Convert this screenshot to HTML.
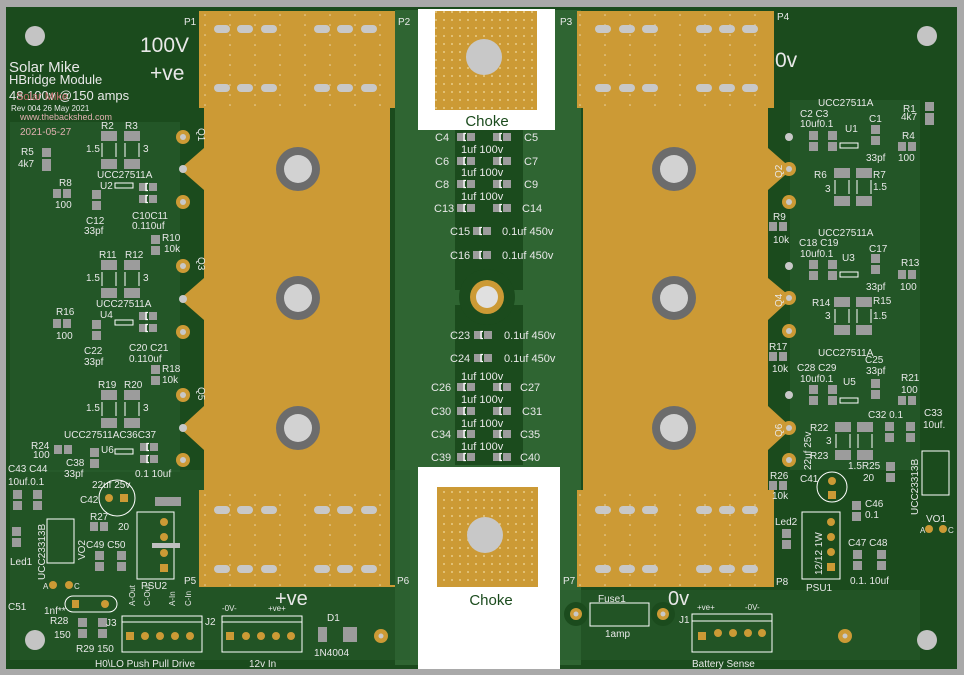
<!DOCTYPE html><html><head><meta charset="utf-8"><style>
html,body{margin:0;padding:0;background:#a9a9a9;}
svg{display:block}
text{font-family:"Liberation Sans",sans-serif;fill:#e8e8e8;}
</style></head><body>
<svg width="964" height="675" viewBox="0 0 964 675" xmlns="http://www.w3.org/2000/svg">
<defs>
<pattern id="dots" width="8" height="8" patternUnits="userSpaceOnUse"><circle cx="4" cy="4" r="0.9" fill="#f0d9a0"/></pattern>
<pattern id="vdots" width="25" height="10" patternUnits="userSpaceOnUse"><circle cx="5" cy="5" r="0.8" fill="#e8d4a8"/></pattern>
<g id="cap"><rect x="0" y="0" width="8" height="8" fill="#9c9c9c"/><rect x="10" y="0" width="8" height="8" fill="#9c9c9c"/><path d="M9 0.5 h-2 v7 h2" stroke="#fff" stroke-width="1.3" fill="none"/></g>
<g id="vr"><rect x="0" y="0" width="9" height="9" fill="#9c9c9c"/><rect x="0" y="11" width="9" height="9" fill="#9c9c9c"/></g>
<g id="bigr"><rect x="0" y="0" width="16" height="10" fill="#9c9c9c"/><rect x="0" y="28" width="16" height="10" fill="#9c9c9c"/><line x1="1" y1="12" x2="1" y2="26" stroke="#fff"/><line x1="15" y1="12" x2="15" y2="26" stroke="#fff"/></g>
<g id="hr"><rect x="0" y="0" width="8" height="9" fill="#9c9c9c"/><rect x="10" y="0" width="8" height="9" fill="#9c9c9c"/></g>
</defs>
<rect width="964" height="675" fill="#a9a9a9"/>
<rect x="6" y="7" width="951" height="662" fill="#1b4b1d"/>
<rect x="395" y="10" width="186" height="655" fill="#2f6532"/>
<rect x="10" y="122" width="170" height="350" fill="#2a5d2e" opacity="0.6"/>
<rect x="790" y="100" width="130" height="370" fill="#2a5d2e" opacity="0.6"/>
<rect x="10" y="470" width="400" height="190" fill="#2a5d2e" opacity="0.5"/>
<rect x="560" y="590" width="360" height="70" fill="#2a5d2e" opacity="0.5"/>
<rect x="455" y="130" width="68" height="160" fill="#1b4b1d"/>
<rect x="455" y="305" width="68" height="160" fill="#1b4b1d"/>
<circle cx="487" cy="297" r="28" fill="#1b4b1d"/>
<circle cx="487" cy="297" r="17" fill="#cc9a35"/>
<circle cx="487" cy="297" r="11" fill="#e0e0e0"/>

<polygon fill="#cc9a35" points="199,11 395,11 395,108 390,108 390,585 395,585 395,587 199,587 199,490 204,490 204,450 180,428 204,406 204,320 180,299 204,278 204,190 180,169 204,148 204,108 199,108"/>
<polygon fill="#cc9a35" points="577,11 774,11 774,108 768,108 768,148 792,169 768,190 768,278 792,298 768,320 768,406 792,428 768,450 768,490 774,490 774,587 577,587 577,490 583,490 583,108 577,108"/>
<rect x="199" y="11" width="196" height="97" fill="url(#vdots)"/>
<rect x="199" y="490" width="196" height="97" fill="url(#vdots)"/>
<rect x="577" y="11" width="197" height="97" fill="url(#vdots)"/>
<rect x="577" y="490" width="197" height="97" fill="url(#vdots)"/>
<g fill="#c8c8c8">
<rect x="214" y="25" width="16" height="8" rx="4"/><rect x="237" y="25" width="16" height="8" rx="4"/><rect x="261" y="25" width="16" height="8" rx="4"/>
<rect x="314" y="25" width="16" height="8" rx="4"/><rect x="337" y="25" width="16" height="8" rx="4"/><rect x="361" y="25" width="16" height="8" rx="4"/>
<rect x="214" y="84" width="16" height="8" rx="4"/><rect x="237" y="84" width="16" height="8" rx="4"/><rect x="261" y="84" width="16" height="8" rx="4"/>
<rect x="314" y="84" width="16" height="8" rx="4"/><rect x="337" y="84" width="16" height="8" rx="4"/><rect x="361" y="84" width="16" height="8" rx="4"/>
<rect x="214" y="506" width="16" height="8" rx="4"/><rect x="237" y="506" width="16" height="8" rx="4"/><rect x="261" y="506" width="16" height="8" rx="4"/>
<rect x="314" y="506" width="16" height="8" rx="4"/><rect x="337" y="506" width="16" height="8" rx="4"/><rect x="361" y="506" width="16" height="8" rx="4"/>
<rect x="214" y="565" width="16" height="8" rx="4"/><rect x="237" y="565" width="16" height="8" rx="4"/><rect x="261" y="565" width="16" height="8" rx="4"/>
<rect x="314" y="565" width="16" height="8" rx="4"/><rect x="337" y="565" width="16" height="8" rx="4"/><rect x="361" y="565" width="16" height="8" rx="4"/>
<rect x="595" y="25" width="16" height="8" rx="4"/><rect x="619" y="25" width="16" height="8" rx="4"/><rect x="642" y="25" width="16" height="8" rx="4"/>
<rect x="696" y="25" width="16" height="8" rx="4"/><rect x="719" y="25" width="16" height="8" rx="4"/><rect x="742" y="25" width="16" height="8" rx="4"/>
<rect x="595" y="84" width="16" height="8" rx="4"/><rect x="619" y="84" width="16" height="8" rx="4"/><rect x="642" y="84" width="16" height="8" rx="4"/>
<rect x="696" y="84" width="16" height="8" rx="4"/><rect x="719" y="84" width="16" height="8" rx="4"/><rect x="742" y="84" width="16" height="8" rx="4"/>
<rect x="595" y="506" width="16" height="8" rx="4"/><rect x="619" y="506" width="16" height="8" rx="4"/><rect x="642" y="506" width="16" height="8" rx="4"/>
<rect x="696" y="506" width="16" height="8" rx="4"/><rect x="719" y="506" width="16" height="8" rx="4"/><rect x="742" y="506" width="16" height="8" rx="4"/>
<rect x="595" y="565" width="16" height="8" rx="4"/><rect x="619" y="565" width="16" height="8" rx="4"/><rect x="642" y="565" width="16" height="8" rx="4"/>
<rect x="696" y="565" width="16" height="8" rx="4"/><rect x="719" y="565" width="16" height="8" rx="4"/><rect x="742" y="565" width="16" height="8" rx="4"/>
</g>
<g>
<circle cx="298" cy="169" r="22" fill="#6c6c6c"/><circle cx="298" cy="169" r="14" fill="#d2d2d2"/>
<circle cx="298" cy="298" r="22" fill="#6c6c6c"/><circle cx="298" cy="298" r="14" fill="#d2d2d2"/>
<circle cx="298" cy="428" r="22" fill="#6c6c6c"/><circle cx="298" cy="428" r="14" fill="#d2d2d2"/>
<circle cx="674" cy="169" r="22" fill="#6c6c6c"/><circle cx="674" cy="169" r="14" fill="#d2d2d2"/>
<circle cx="674" cy="298" r="22" fill="#6c6c6c"/><circle cx="674" cy="298" r="14" fill="#d2d2d2"/>
<circle cx="674" cy="428" r="22" fill="#6c6c6c"/><circle cx="674" cy="428" r="14" fill="#d2d2d2"/>
</g>
<g fill="#cc9a35">
<circle cx="183" cy="137" r="7"/><circle cx="183" cy="202" r="7"/><circle cx="183" cy="266" r="7"/><circle cx="183" cy="332" r="7"/><circle cx="183" cy="395" r="7"/><circle cx="183" cy="460" r="7"/>
<circle cx="789" cy="169" r="7"/><circle cx="789" cy="202" r="7"/><circle cx="789" cy="298" r="7"/><circle cx="789" cy="331" r="7"/><circle cx="789" cy="428" r="7"/><circle cx="789" cy="460" r="7"/>
<circle cx="381" cy="636" r="7"/><circle cx="845" cy="636" r="7"/>
</g>
<g fill="#c8c8c8">
<circle cx="183" cy="137" r="3"/><circle cx="183" cy="169" r="4"/><circle cx="183" cy="202" r="3"/><circle cx="183" cy="266" r="3"/><circle cx="183" cy="299" r="4"/><circle cx="183" cy="332" r="3"/><circle cx="183" cy="395" r="3"/><circle cx="183" cy="428" r="4"/><circle cx="183" cy="460" r="3"/>
<circle cx="789" cy="137" r="4"/><circle cx="789" cy="169" r="3"/><circle cx="789" cy="202" r="3"/><circle cx="789" cy="266" r="4"/><circle cx="789" cy="298" r="3"/><circle cx="789" cy="331" r="3"/><circle cx="789" cy="395" r="4"/><circle cx="789" cy="428" r="3"/><circle cx="789" cy="460" r="3"/>
<circle cx="381" cy="636" r="2.5"/><circle cx="845" cy="636" r="2.5"/>
</g>
<g fill="#c4c4c4"><circle cx="35" cy="36" r="10"/><circle cx="927" cy="36" r="10"/><circle cx="35" cy="640" r="10"/><circle cx="927" cy="640" r="10"/></g>

<rect x="418" y="9" width="137" height="121" fill="#fff"/>
<rect x="435" y="11" width="102" height="99" fill="#cc9a35"/>
<rect x="435" y="11" width="102" height="99" fill="url(#dots)"/>
<circle cx="484" cy="57" r="18" fill="#c8c8c8"/>
<text x="487" y="126" font-size="15" text-anchor="middle" style="fill:#1b4b1d">Choke</text>
<rect x="418" y="467" width="142" height="202" fill="#fff"/>
<rect x="437" y="487" width="101" height="100" fill="#cc9a35"/>
<rect x="437" y="487" width="101" height="100" fill="url(#dots)"/>
<circle cx="485" cy="535" r="18" fill="#c8c8c8"/>
<text x="491" y="605" font-size="15" text-anchor="middle" style="fill:#1b4b1d">Choke</text>

<use href="#cap" x="457" y="133"/><use href="#cap" x="493" y="133"/>
<use href="#cap" x="457" y="157"/><use href="#cap" x="493" y="157"/>
<use href="#cap" x="457" y="180"/><use href="#cap" x="493" y="180"/>
<use href="#cap" x="457" y="204"/><use href="#cap" x="493" y="204"/>
<use href="#cap" x="473" y="227"/><use href="#cap" x="473" y="251"/>
<use href="#cap" x="474" y="331"/><use href="#cap" x="474" y="354"/>
<use href="#cap" x="457" y="383"/><use href="#cap" x="493" y="383"/>
<use href="#cap" x="457" y="407"/><use href="#cap" x="493" y="407"/>
<use href="#cap" x="457" y="430"/><use href="#cap" x="493" y="430"/>
<use href="#cap" x="457" y="453"/><use href="#cap" x="493" y="453"/>
<g font-size="11">
<text x="435" y="141">C4</text><text x="524" y="141">C5</text>
<text x="435" y="165">C6</text><text x="524" y="165">C7</text>
<text x="435" y="188">C8</text><text x="524" y="188">C9</text>
<text x="434" y="212">C13</text><text x="522" y="212">C14</text>
<text x="450" y="235">C15</text><text x="502" y="235">0.1uf  450v</text>
<text x="450" y="259">C16</text><text x="502" y="259">0.1uf  450v</text>
<text x="450" y="339">C23</text><text x="504" y="339">0.1uf  450v</text>
<text x="450" y="362">C24</text><text x="504" y="362">0.1uf  450v</text>
<text x="431" y="391">C26</text><text x="520" y="391">C27</text>
<text x="431" y="415">C30</text><text x="522" y="415">C31</text>
<text x="431" y="438">C34</text><text x="520" y="438">C35</text>
<text x="431" y="461">C39</text><text x="520" y="461">C40</text>
<text x="461" y="153">1uf  100v</text><text x="461" y="176">1uf  100v</text><text x="461" y="200">1uf  100v</text>
<text x="461" y="380">1uf  100v</text><text x="461" y="403">1uf  100v</text><text x="461" y="427">1uf  100v</text><text x="461" y="450">1uf  100v</text>
</g>

<text x="140" y="52" font-size="21">100V</text>
<text x="150" y="80" font-size="21">+ve</text>
<text x="775" y="67" font-size="21">0v</text>
<text x="275" y="605" font-size="20">+ve</text>
<text x="668" y="605" font-size="20">0v</text>
<text x="9" y="72" font-size="15">Solar  Mike</text>
<text x="9" y="84" font-size="13">HBridge  Module</text>
<text x="9" y="100" font-size="13">48  100v  @150  amps</text>
<text x="16" y="100" font-size="11" style="fill:#c07070">Solar Mike</text>
<text x="11" y="111" font-size="8">Rev  004  26  May  2021</text>
<text x="20" y="120" font-size="9" style="fill:#e0b0b0">www.thebackshed.com</text>
<text x="20" y="135" font-size="10" style="fill:#e0b0b0">2021-05-27</text>
<g font-size="10">
<text x="184" y="25">P1</text><text x="398" y="25">P2</text><text x="560" y="25">P3</text><text x="777" y="20">P4</text>
<text x="184" y="584">P5</text><text x="397" y="584">P6</text><text x="563" y="584">P7</text><text x="776" y="585">P8</text>
</g>

<g font-size="10">
<text x="101" y="129">R2</text><text x="125" y="129">R3</text>
<use href="#bigr" x="101" y="131"/><use href="#bigr" x="124" y="131"/>
<text x="86" y="152">1.5</text><text x="143" y="152">3</text>
<text x="21" y="155">R5</text><text x="18" y="167">4k7</text><use href="#vr" x="42" y="148"/><rect x="42" y="162" width="9" height="9" fill="#9c9c9c"/>
<text x="97" y="178">UCC27511A</text><text x="100" y="189">U2</text>
<rect x="115" y="183" width="18" height="5" fill="none" stroke="#fff"/>
<use href="#cap" x="139" y="183"/><use href="#cap" x="139" y="195"/>
<text x="59" y="186">R8</text><use href="#hr" x="53" y="189"/><text x="55" y="208">100</text>
<use href="#vr" x="92" y="190"/><text x="86" y="224">C12</text><text x="84" y="234">33pf</text>
<text x="132" y="219">C10C11</text><text x="132" y="229">0.110uf</text>
<text x="162" y="241">R10</text><text x="164" y="252">10k</text><use href="#vr" x="151" y="235"/>
<text x="99" y="258">R11</text><text x="125" y="258">R12</text>
<use href="#bigr" x="101" y="260"/><use href="#bigr" x="124" y="260"/>
<text x="86" y="281">1.5</text><text x="143" y="281">3</text>
<text x="96" y="307">UCC27511A</text><text x="100" y="318">U4</text>
<rect x="115" y="320" width="18" height="5" fill="none" stroke="#fff"/>
<use href="#cap" x="139" y="312"/><use href="#cap" x="139" y="324"/>
<text x="56" y="315">R16</text><use href="#hr" x="53" y="319"/><text x="56" y="339">100</text>
<use href="#vr" x="92" y="320"/><text x="84" y="354">C22</text><text x="84" y="365">33pf</text>
<text x="129" y="351">C20 C21</text><text x="129" y="362">0.110uf</text>
<text x="162" y="372">R18</text><text x="162" y="383">10k</text><use href="#vr" x="151" y="365"/>
<text x="98" y="388">R19</text><text x="124" y="388">R20</text>
<use href="#bigr" x="101" y="390"/><use href="#bigr" x="124" y="390"/>
<text x="86" y="411">1.5</text><text x="143" y="411">3</text>
<text x="64" y="438">UCC27511AC36C37</text><text x="101" y="453">U6</text>
<rect x="115" y="449" width="18" height="5" fill="none" stroke="#fff"/>
<use href="#cap" x="140" y="443"/><use href="#cap" x="140" y="455"/>
<text x="31" y="449">R24</text><text x="33" y="458">100</text><use href="#hr" x="54" y="445"/>
<text x="66" y="466">C38</text><text x="64" y="477">33pf</text><use href="#vr" x="90" y="448"/>
<text x="135" y="477">0.1  10uf</text>
<text x="8" y="472">C43 C44</text><text x="8" y="485">10uf.0.1</text>
<use href="#vr" x="13" y="490"/><use href="#vr" x="33" y="490"/>
<text x="92" y="488">22uf  25v</text>
<circle cx="117" cy="498" r="18" fill="none" stroke="#fff"/>
<circle cx="109" cy="498" r="4" fill="#cc9a35"/><rect x="120" y="494" width="8" height="8" fill="#cc9a35"/>
<text x="80" y="503">C42</text>
<rect x="155" y="497" width="26" height="9" fill="#9c9c9c"/>
<text x="90" y="520">R27</text><use href="#hr" x="90" y="522"/><text x="118" y="530">20</text>
<text x="86" y="548">C49 C50</text><use href="#vr" x="95" y="551"/><use href="#vr" x="117" y="551"/>
<rect x="137" y="512" width="37" height="67" fill="none" stroke="#fff"/>
<rect x="152" y="543" width="28" height="5" fill="#c0c0c0"/>
<circle cx="164" cy="522" r="4" fill="#cc9a35"/><circle cx="164" cy="537" r="4" fill="#cc9a35"/><circle cx="164" cy="553" r="4" fill="#cc9a35"/><rect x="160" y="564" width="8" height="8" fill="#cc9a35"/>
<text x="141" y="589">PSU2</text>
<rect x="47" y="519" width="27" height="44" fill="none" stroke="#fff"/>
<text x="10" y="565">Led1</text><use href="#vr" x="12" y="527"/>
<text x="8" y="610">C51</text><text x="44" y="614">1nf**</text>
<rect x="65" y="596" width="52" height="16" rx="8" fill="none" stroke="#fff"/>
<rect x="72" y="600" width="7" height="8" fill="#cc9a35"/><circle cx="105" cy="604" r="4" fill="#cc9a35"/>
<text x="50" y="624">R28</text><text x="54" y="638">150</text><use href="#vr" x="78" y="618"/><use href="#vr" x="98" y="618"/>
<text x="76" y="652">R29 150</text>
<circle cx="53" cy="585" r="4" fill="#cc9a35"/><circle cx="69" cy="585" r="4" fill="#cc9a35"/>
<text x="43" y="589" font-size="8">A</text><text x="74" y="589" font-size="8">C</text>
</g>
<text transform="translate(45,580) rotate(-90)" font-size="10">UCC23313B</text>
<text transform="translate(85,560) rotate(-90)" font-size="10">VO2</text>
<rect x="122" y="616" width="80" height="36" fill="none" stroke="#fff"/>
<line x1="122" y1="622" x2="202" y2="622" stroke="#fff"/>
<rect x="222" y="616" width="80" height="36" fill="none" stroke="#fff"/>
<line x1="222" y1="622" x2="302" y2="622" stroke="#fff"/>
<g fill="#cc9a35">
<rect x="126" y="632" width="8" height="8"/><circle cx="145" cy="636" r="4"/><circle cx="160" cy="636" r="4"/><circle cx="175" cy="636" r="4"/><circle cx="190" cy="636" r="4"/>
<rect x="226" y="632" width="8" height="8"/><circle cx="246" cy="636" r="4"/><circle cx="261" cy="636" r="4"/><circle cx="276" cy="636" r="4"/><circle cx="291" cy="636" r="4"/>
<rect x="698" y="632" width="8" height="8"/><circle cx="718" cy="633" r="4"/><circle cx="733" cy="633" r="4"/><circle cx="748" cy="633" r="4"/><circle cx="762" cy="633" r="4"/>
</g>
<rect x="692" y="614" width="80" height="38" fill="none" stroke="#fff"/>
<line x1="692" y1="621" x2="772" y2="621" stroke="#fff"/>
<g font-size="10">
<text x="106" y="626">J3</text><text x="205" y="625">J2</text><text x="679" y="623">J1</text>
<text x="95" y="667">H0\LO  Push  Pull  Drive</text><text x="249" y="667">12v  In</text>
<text x="692" y="667">Battery  Sense</text>
<text x="222" y="611" font-size="8">-0V-</text><text x="268" y="611" font-size="8">+ve+</text>
<text x="697" y="610" font-size="8">+ve+</text><text x="745" y="610" font-size="8">-0V-</text>
<text x="327" y="621">D1</text><text x="314" y="656">1N4004</text>
<text x="598" y="602">Fuse1</text><text x="605" y="637">1amp</text>
</g>
<rect x="318" y="627" width="9" height="15" fill="#9c9c9c"/><rect x="343" y="627" width="14" height="15" fill="#9c9c9c"/>
<g font-size="8" fill="#e8e8e8">
<text transform="translate(135,606) rotate(-90)">A-Out</text><text transform="translate(150,606) rotate(-90)">C-Out</text>
<text transform="translate(175,606) rotate(-90)">A-In</text><text transform="translate(191,606) rotate(-90)">C-In</text>
</g>
<circle cx="576" cy="614" r="12" fill="#1b4b1d"/><circle cx="576" cy="614" r="6" fill="#cc9a35"/><circle cx="576" cy="614" r="2.5" fill="#c8c8c8"/>
<circle cx="663" cy="614" r="12" fill="#1b4b1d"/><circle cx="663" cy="614" r="6" fill="#cc9a35"/><circle cx="663" cy="614" r="2.5" fill="#c8c8c8"/>
<rect x="590" y="603" width="59" height="23" fill="none" stroke="#fff"/>

<g font-size="10">
<text x="818" y="106">UCC27511A</text>
<text x="800" y="117">C2  C3</text><text x="800" y="127">10uf0.1</text>
<use href="#vr" x="809" y="131"/><use href="#vr" x="828" y="131"/>
<text x="845" y="132">U1</text><rect x="840" y="143" width="18" height="5" fill="none" stroke="#fff"/>
<text x="869" y="122">C1</text><use href="#vr" x="871" y="125"/><text x="866" y="161">33pf</text>
<text x="903" y="112">R1</text><text x="901" y="120">4k7</text><use href="#vr" x="925" y="102"/><rect x="925" y="116" width="9" height="9" fill="#9c9c9c"/>
<text x="902" y="139">R4</text><use href="#hr" x="898" y="142"/><text x="898" y="161">100</text>
<text x="814" y="178">R6</text><text x="825" y="192">3</text><text x="873" y="178">R7</text><text x="873" y="190">1.5</text>
<use href="#bigr" x="834" y="168"/><use href="#bigr" x="856" y="168"/>
<text x="773" y="220">R9</text><use href="#hr" x="769" y="222"/><text x="773" y="243">10k</text>
<text x="818" y="236">UCC27511A</text>
<text x="799" y="246">C18  C19</text><text x="800" y="257">10uf0.1</text>
<use href="#vr" x="809" y="260"/><use href="#vr" x="828" y="260"/>
<text x="842" y="261">U3</text><rect x="840" y="272" width="18" height="5" fill="none" stroke="#fff"/>
<text x="869" y="252">C17</text><use href="#vr" x="871" y="254"/><text x="866" y="290">33pf</text>
<text x="901" y="266">R13</text><use href="#hr" x="898" y="270"/><text x="900" y="290">100</text>
<text x="812" y="306">R14</text><text x="825" y="319">3</text><text x="873" y="304">R15</text><text x="873" y="319">1.5</text>
<use href="#bigr" x="834" y="297"/><use href="#bigr" x="856" y="297"/>
<text x="769" y="350">R17</text><use href="#hr" x="769" y="352"/><text x="772" y="372">10k</text>
<text x="818" y="356">UCC27511A</text>
<text x="797" y="371">C28 C29</text><text x="800" y="382">10uf0.1</text>
<text x="865" y="363">C25</text><text x="866" y="374">33pf</text>
<use href="#vr" x="809" y="385"/><use href="#vr" x="828" y="385"/>
<text x="843" y="385">U5</text><rect x="840" y="398" width="18" height="5" fill="none" stroke="#fff"/>
<use href="#vr" x="871" y="379"/>
<text x="901" y="381">R21</text><text x="901" y="393">100</text><use href="#hr" x="898" y="396"/>
<text x="868" y="418">C32 0.1</text><text x="924" y="416">C33</text><text x="923" y="428">10uf.</text>
<use href="#vr" x="885" y="422"/><use href="#vr" x="906" y="422"/>
<text x="810" y="431">R22</text><text x="826" y="444">3</text><use href="#bigr" x="835" y="422"/><use href="#bigr" x="857" y="422"/>
<text x="810" y="459">R23</text><text x="848" y="469">1.5R25</text><text x="863" y="481">20</text><use href="#vr" x="886" y="462"/>
<text x="770" y="479">R26</text><use href="#hr" x="769" y="481"/><text x="772" y="499">10k</text>
<text x="800" y="482">C41</text>
<circle cx="832" cy="487" r="15" fill="none" stroke="#fff"/>
<circle cx="832" cy="481" r="4" fill="#cc9a35"/><rect x="828" y="491" width="8" height="8" fill="#cc9a35"/>
<text x="865" y="507">C46</text><text x="865" y="518">0.1</text><use href="#vr" x="852" y="501"/>
<text x="775" y="525">Led2</text><use href="#vr" x="782" y="529"/>
<rect x="802" y="512" width="38" height="67" fill="none" stroke="#fff"/>
<circle cx="831" cy="522" r="4" fill="#cc9a35"/><circle cx="831" cy="537" r="4" fill="#cc9a35"/><circle cx="831" cy="552" r="4" fill="#cc9a35"/><rect x="827" y="563" width="8" height="8" fill="#cc9a35"/>
<text x="806" y="591">PSU1</text>
<text x="848" y="546">C47 C48</text><use href="#vr" x="853" y="550"/><use href="#vr" x="877" y="550"/>
<text x="850" y="584">0.1. 10uf</text>
<rect x="922" y="451" width="27" height="44" fill="none" stroke="#fff"/>
<text x="926" y="522">VO1</text>
<circle cx="929" cy="529" r="4" fill="#cc9a35"/><circle cx="943" cy="529" r="4" fill="#cc9a35"/>
<text x="920" y="533" font-size="8">A</text><text x="948" y="533" font-size="8">C</text>
</g>
<g font-size="10">
<text transform="translate(198,128) rotate(90)">Q1</text>
<text transform="translate(198,257) rotate(90)">Q3</text>
<text transform="translate(198,387) rotate(90)">Q5</text>
<text transform="translate(782,178) rotate(-90)">Q2</text>
<text transform="translate(782,307) rotate(-90)">Q4</text>
<text transform="translate(782,437) rotate(-90)">Q6</text>
<text transform="translate(811,470) rotate(-90)">22uf  25v</text>
<text transform="translate(822,575) rotate(-90)">12/12  1W</text>
<text transform="translate(918,515) rotate(-90)">UCC23313B</text>
</g>
</svg>
</body></html>
